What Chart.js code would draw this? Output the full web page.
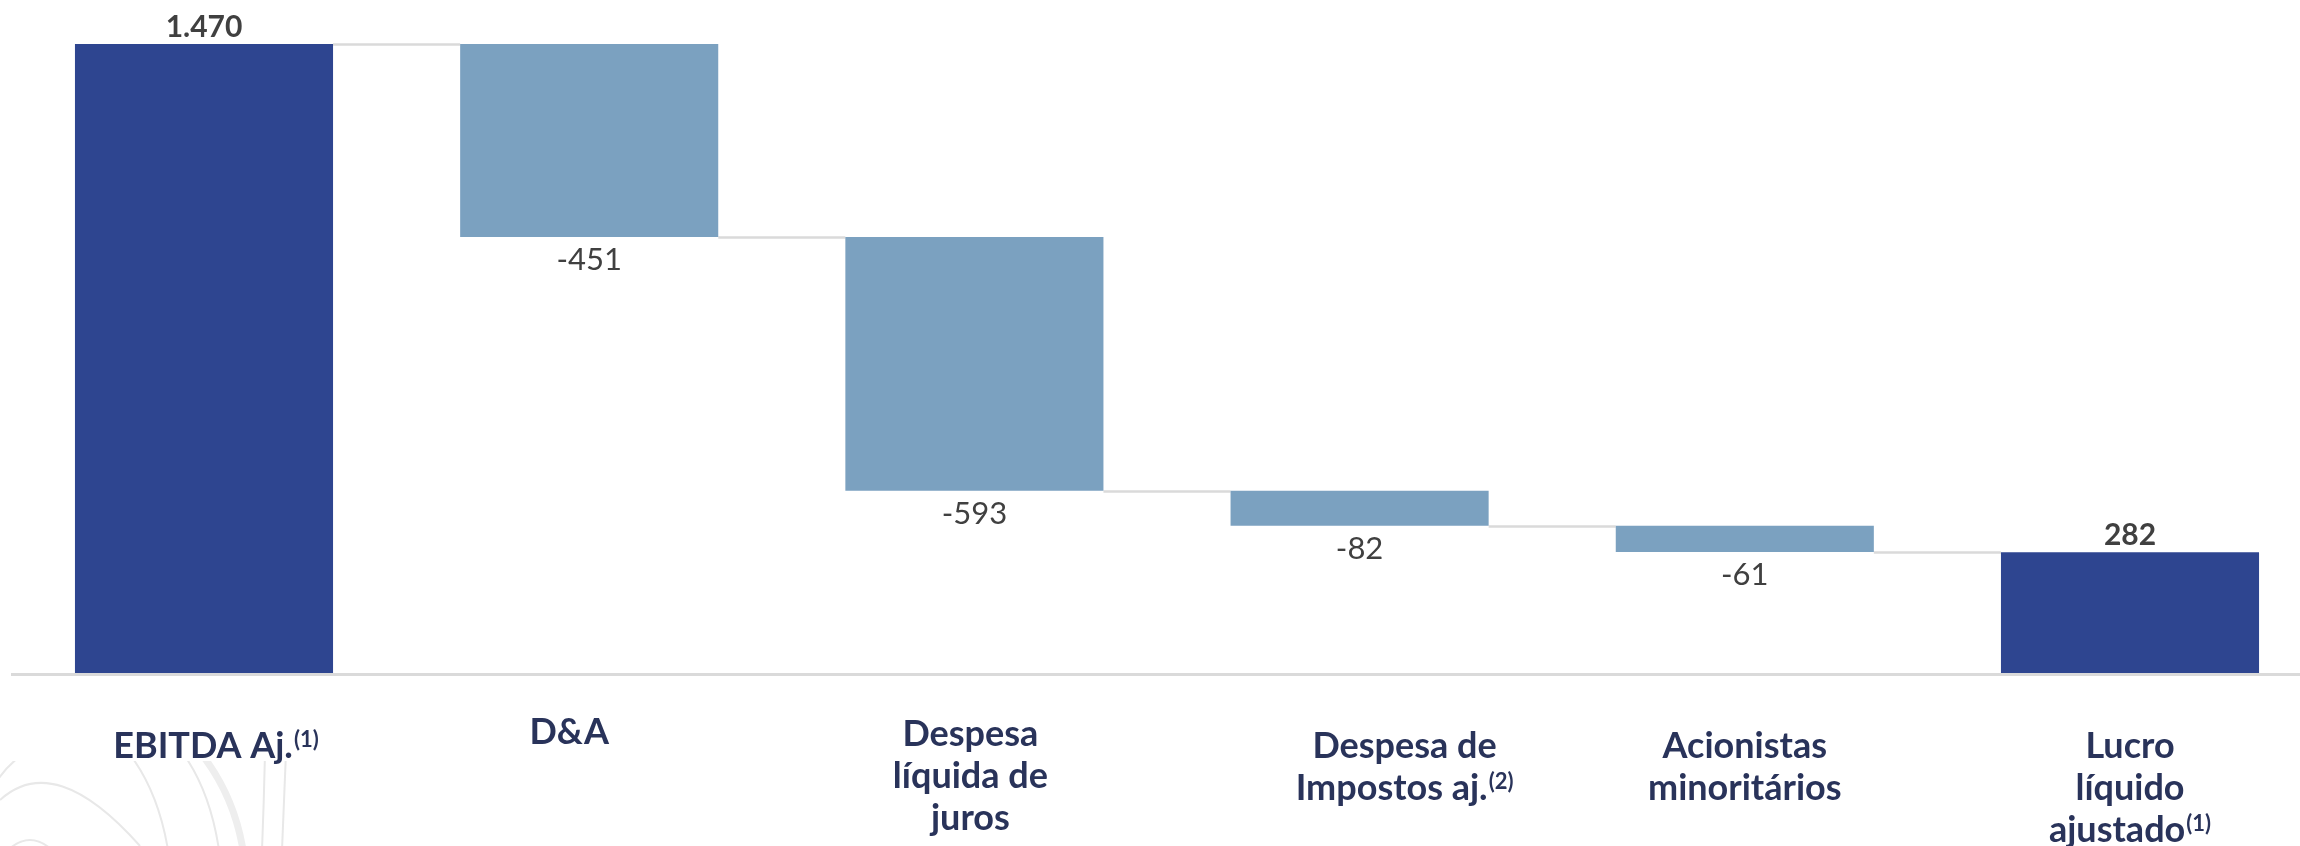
<!DOCTYPE html>
<html>
<head>
<meta charset="utf-8">
<script src="https://cdn.jsdelivr.net/npm/chart.js@4.4.1/dist/chart.umd.min.js"></script>
<style>
  html, body { margin: 0; padding: 0; background: #ffffff; overflow: hidden; }
  #wrap { position: absolute; left: 0; top: 0; width: 2324px; height: 846px; }
</style>
</head>
<body>
<div id="wrap"><canvas id="c"></canvas></div>
<script>
// ---- data ----
const categories = ['EBITDA Aj.', 'D&A', 'Despesa líquida de juros', 'Despesa de Impostos aj.', 'Acionistas minoritários', 'Lucro líquido ajustado'];
const labelLines = [['EBITDA Aj.'], ['D&A'], ['Despesa', 'líquida de', 'juros'], ['Despesa de', 'Impostos aj.'], ['Acionistas', 'minoritários'], ['Lucro', 'líquido', 'ajustado']];
const superscripts = ['(1)', '', '', '(2)', '', '(1)'];
const values = [1470, -451, -593, -82, -61, 282];
const kinds = ['total', 'delta', 'delta', 'delta', 'delta', 'total'];

// ---- styles (kept apart from the data) ----
const DARK = '#2E4590', LIGHT = '#7BA1C0', GRID = '#DADADA';
const LABEL_COLOR = '#29335A', VALUE_COLOR = '#404040';
const labelDx = [12, -20, -4, 45, 0, 0];
const labelBaseline = [85, 71, 73, 85, 85, 85];
const LINE_H = 42;

function fmt(v) {
  const s = Math.abs(v).toString().replace(/\B(?=(\d{3})+(?!\d))/g, '.');
  return (v < 0 ? '-' : '') + s;
}

// floating bars built from the values
const floating = [];
const levels = [];
let run = 0;
values.forEach((v, i) => {
  if (kinds[i] === 'total') { floating.push([0, v]); run = v; }
  else { floating.push([run + v, run]); run += v; }
  levels.push(run);
});

const decor = {
  id: 'decor',
  beforeDraw(chart) {
    const ctx = chart.ctx;
    ctx.save();
    ctx.beginPath();
    ctx.rect(0, 761, 300, 90);
    ctx.clip();
    ctx.strokeStyle = '#E8E8E8';
    ctx.lineWidth = 2;
    const curves = [
      [[-5, 784], [5, 768], [18, 758]],
      [[0, 800], [55, 750], [140, 846]],
      [[128, 752], [158, 790], [168, 850]],
      [[182, 752], [210, 790], [219, 850]],
      [[265, 752], [264, 800], [262, 850]],
      [[286, 752], [284, 800], [282, 850]],
      [[8, 850], [30, 830], [52, 850]]
    ];
    curves.forEach(c => {
      ctx.beginPath();
      ctx.moveTo(c[0][0], c[0][1]);
      ctx.quadraticCurveTo(c[1][0], c[1][1], c[2][0], c[2][1]);
      ctx.stroke();
    });
    ctx.strokeStyle = '#EEEEEE';
    ctx.lineWidth = 7;
    ctx.beginPath();
    ctx.moveTo(200, 752);
    ctx.quadraticCurveTo(234, 795, 243, 850);
    ctx.stroke();
    ctx.restore();
  }
};

const lines = {
  id: 'lines',
  beforeDatasetsDraw(chart) {
    const ctx = chart.ctx;
    const y = chart.scales.y;
    const meta = chart.getDatasetMeta(0);
    ctx.save();
    const y0 = y.getPixelForValue(0);
    ctx.strokeStyle = GRID;
    ctx.lineWidth = 3;
    ctx.beginPath();
    ctx.moveTo(11, y0 + 1.5);
    ctx.lineTo(chart.width, y0 + 1.5);
    ctx.stroke();
    ctx.lineWidth = 2.5;
    for (let i = 0; i < meta.data.length - 1; i++) {
      const a = meta.data[i], b = meta.data[i + 1];
      const py = Math.round(y.getPixelForValue(levels[i])) + 0.5;
      ctx.beginPath();
      ctx.moveTo(a.x + a.width / 2, py);
      ctx.lineTo(b.x - b.width / 2, py);
      ctx.stroke();
    }
    ctx.restore();
  }
};

const texts = {
  id: 'texts',
  afterDraw(chart) {
    const ctx = chart.ctx;
    const xs = chart.scales.x, ys = chart.scales.y;
    const meta = chart.getDatasetMeta(0);
    const y0 = ys.getPixelForValue(0);
    ctx.save();
    ctx.fillStyle = VALUE_COLOR;
    ctx.textAlign = 'center';
    ctx.textBaseline = 'alphabetic';
    values.forEach((v, i) => {
      const bar = meta.data[i];
      const top = Math.min(bar.y, bar.base), bottom = Math.max(bar.y, bar.base);
      if (kinds[i] === 'total') {
        ctx.font = 'bold 30px Lato';
        ctx.fillText(fmt(v), bar.x, top - 7);
      } else {
        ctx.font = '31px Lato';
        ctx.fillText(fmt(v), bar.x, bottom + 33);
      }
    });
    ctx.fillStyle = LABEL_COLOR;
    ctx.textAlign = 'left';
    labelLines.forEach((ls, i) => {
      const cx = xs.getPixelForValue(i) + labelDx[i];
      ls.forEach((line, j) => {
        const isLast = j === ls.length - 1;
        const sup = isLast ? superscripts[i] : '';
        ctx.font = 'bold 36px Lato';
        const wMain = ctx.measureText(line).width;
        ctx.font = 'bold 22px Lato';
        const wSup = sup ? ctx.measureText(sup).width + 1 : 0;
        const x0 = cx - (wMain + wSup) / 2;
        const by = y0 + labelBaseline[i] + j * LINE_H;
        ctx.font = 'bold 36px Lato';
        ctx.fillText(line, x0, by);
        if (sup) {
          ctx.font = 'bold 22px Lato';
          ctx.fillText(sup, x0 + wMain + 1, by - 11);
        }
      });
    });
    ctx.restore();
  }
};

new Chart(document.getElementById('c'), {
  type: 'bar',
  data: {
    labels: categories,
    datasets: [{
      data: floating,
      backgroundColor: kinds.map(k => k === 'total' ? DARK : LIGHT),
      borderWidth: 0,
      borderSkipped: false,
      barPercentage: 0.67,
      categoryPercentage: 1.0,
      clip: false
    }]
  },
  options: {
    responsive: true,
    maintainAspectRatio: false,
    animation: false,
    events: [],
    layout: { padding: { top: 44, bottom: 173, left: 11.4, right: 1.4 } },
    plugins: { legend: { display: false }, tooltip: { enabled: false } },
    scales: {
      x: { display: false },
      y: { display: false, min: 0, max: 1470 }
    }
  },
  plugins: [decor, lines, texts]
});
</script>
</body>
</html>
